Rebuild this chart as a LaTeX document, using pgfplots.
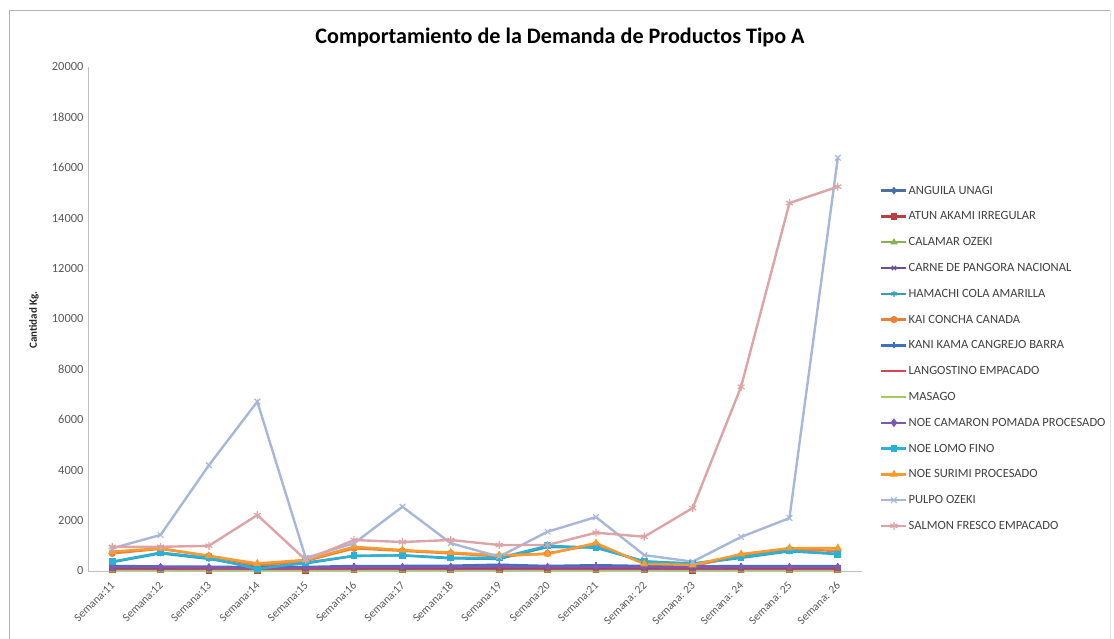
\documentclass[border=0pt]{standalone}
\usepackage{fontspec}
\setmainfont{Carlito}
\usepackage{pgfplots}
\pgfplotsset{compat=1.18}
\definecolor{cAng}{HTML}{4A6FA5}
\definecolor{cAtu}{HTML}{B8403D}
\definecolor{cCal}{HTML}{8DB04F}
\definecolor{cCar}{HTML}{6E4F95}
\definecolor{cHam}{HTML}{3A9DB5}
\definecolor{cKai}{HTML}{E8823A}
\definecolor{cKan}{HTML}{3F6FC0}
\definecolor{cLan}{HTML}{D9434F}
\definecolor{cMas}{HTML}{A4CC55}
\definecolor{cNoc}{HTML}{7E5AAE}
\definecolor{cNol}{HTML}{2BB0D6}
\definecolor{cNos}{HTML}{F99B30}
\definecolor{cPul}{HTML}{A7B7DA}
\definecolor{cSal}{HTML}{DDA3A6}
\begin{document}
\begin{tikzpicture}[x=1bp,y=1bp]
\path[use as bounding box] (-88,-68) rectangle (1026,571);
\draw[black!30, line width=1bp] (-78,-70) -- (-78,560) -- (1022,560);
\draw[black!10, line width=1bp] (1022,560) -- (1022,-70);
\node at (472,534) {\fontsize{22.2}{26}\selectfont\bfseries Comportamiento de la Demanda de Productos Tipo A};
\node[rotate=90, text=black!85] at (-54,251) {\fontsize{11}{13}\selectfont\bfseries Cantidad Kg.};
\begin{axis}[
  at={(0,0)}, anchor=south west, scale only axis,
  width=774bp, height=504bp,
  xmin=-0.5, xmax=15.5, ymin=0, ymax=20000,
  axis x line*=bottom, axis y line*=left,
  axis line style={draw=black!25, line width=0.8pt, -},
  major tick length=0pt,
  xtick={0,...,15},
  xticklabels={Semana:11,Semana:12,Semana:13,Semana:14,Semana:15,Semana:16,Semana:17,Semana:18,Semana:19,Semana:20,Semana:21,Semana: 22,Semana: 23,Semana: 24,Semana: 25,Semana: 26},
  x tick label style={yshift=-10bp, xshift=3bp, rotate=45, anchor=east, font=\fontsize{11.5}{13}\selectfont, text=black!65},
  ytick={0,2000,...,20000},
  y tick label style={font=\fontsize{12.5}{14}\selectfont, text=black!65, /pgf/number format/assume math mode=true, xshift=-1bp},
  scaled y ticks=false,
  /pgf/number format/1000 sep={},
  every axis plot/.append style={line width=2.4bp, mark size=3bp, mark options={solid, line width=1.2bp}},
  legend image code/.code={\draw[mark repeat=2,mark phase=2,#1] plot coordinates {(0bp,0bp) (12.5bp,0bp) (25bp,0bp)};},
  legend style={draw=none, fill=none, at={(1.0233,0.768)}, anchor=north west,
    font=\fontsize{12.6}{14}\selectfont, text=black!75, row sep=12.8bp, inner sep=0pt,
    nodes={inner sep=1pt, text height=9bp, text depth=2bp}},
  legend cell align=left,
]
\addplot[color=cAng, mark=diamond*, mark size=3bp] coordinates {(0,100)(1,90)(2,90)(3,80)(4,80)(5,100)(6,100)(7,110)(8,120)(9,100)(10,110)(11,100)(12,90)(13,100)(14,100)(15,100)};
\addlegendentry{ANGUILA UNAGI}
\addplot[color=cAtu, mark=square*, mark size=2.8bp] coordinates {(0,40)(1,40)(2,30)(3,30)(4,30)(5,40)(6,40)(7,40)(8,50)(9,40)(10,40)(11,40)(12,30)(13,40)(14,40)(15,40)};
\addlegendentry{ATUN AKAMI IRREGULAR}
\addplot[color=cCal, mark=triangle*, mark size=3bp] coordinates {(0,20)(1,20)(2,20)(3,20)(4,20)(5,20)(6,20)(7,20)(8,20)(9,20)(10,20)(11,20)(12,20)(13,20)(14,20)(15,20)};
\addlegendentry{CALAMAR OZEKI}
\addplot[color=cCar, mark=x, mark size=3bp] coordinates {(0,120)(1,110)(2,100)(3,90)(4,90)(5,110)(6,110)(7,110)(8,130)(9,110)(10,120)(11,110)(12,100)(13,110)(14,110)(15,110)};
\addlegendentry{CARNE DE PANGORA NACIONAL}
\addplot[color=cHam, mark=asterisk, mark size=3bp] coordinates {(0,350)(1,700)(2,480)(3,150)(4,300)(5,600)(6,620)(7,500)(8,480)(9,950)(10,950)(11,380)(12,280)(13,520)(14,780)(15,680)};
\addlegendentry{HAMACHI COLA AMARILLA}
\addplot[color=cKai, mark=*, mark size=3bp] coordinates {(0,700)(1,880)(2,600)(3,220)(4,400)(5,900)(6,800)(7,700)(8,580)(9,700)(10,1050)(11,300)(12,200)(13,600)(14,850)(15,800)};
\addlegendentry{KAI CONCHA CANADA}
\addplot[color=cKan, mark=+, mark size=3bp] coordinates {(0,200)(1,180)(2,170)(3,150)(4,160)(5,200)(6,200)(7,210)(8,250)(9,200)(10,230)(11,200)(12,180)(13,200)(14,190)(15,200)};
\addlegendentry{KANI KAMA CANGREJO BARRA}
\addplot[color=cLan, mark=-, mark size=3bp] coordinates {(0,30)(1,30)(2,30)(3,30)(4,30)(5,30)(6,30)(7,30)(8,30)(9,30)(10,30)(11,30)(12,30)(13,30)(14,30)(15,30)};
\addlegendentry{LANGOSTINO EMPACADO}
\addplot[color=cMas, mark=none] coordinates {(0,10)(1,10)(2,10)(3,10)(4,10)(5,10)(6,10)(7,10)(8,10)(9,10)(10,10)(11,10)(12,10)(13,10)(14,10)(15,10)};
\addlegendentry{MASAGO}
\addplot[color=cNoc, mark=diamond*, mark size=3.5bp] coordinates {(0,150)(1,150)(2,140)(3,120)(4,130)(5,150)(6,150)(7,160)(8,180)(9,150)(10,160)(11,150)(12,140)(13,150)(14,150)(15,150)};
\addlegendentry{NOE CAMARON POMADA  PROCESADO}
\addplot[color=cNol, mark=square*, mark size=2.8bp] coordinates {(0,370)(1,730)(2,520)(3,80)(4,330)(5,600)(6,620)(7,520)(8,520)(9,1000)(10,920)(11,380)(12,300)(13,550)(14,800)(15,670)};
\addlegendentry{NOE LOMO FINO}
\addplot[color=cNos, mark=triangle*, mark size=3.5bp] coordinates {(0,770)(1,900)(2,600)(3,300)(4,440)(5,960)(6,830)(7,730)(8,630)(9,670)(10,1110)(11,280)(12,240)(13,670)(14,910)(15,910)};
\addlegendentry{NOE SURIMI PROCESADO}
\addplot[color=cPul, mark=x, mark size=4bp] coordinates {(0,900)(1,1430)(2,4200)(3,6720)(4,520)(5,1100)(6,2550)(7,1100)(8,570)(9,1560)(10,2140)(11,630)(12,370)(13,1350)(14,2100)(15,16400)};
\addlegendentry{PULPO OZEKI}
\addplot[color=cSal, mark=asterisk, mark size=4bp] coordinates {(0,960)(1,960)(2,1000)(3,2220)(4,440)(5,1230)(6,1150)(7,1230)(8,1030)(9,1030)(10,1520)(11,1360)(12,2500)(13,7310)(14,14600)(15,15250)};
\addlegendentry{SALMON FRESCO EMPACADO}
\end{axis}
\end{tikzpicture}
\end{document}
